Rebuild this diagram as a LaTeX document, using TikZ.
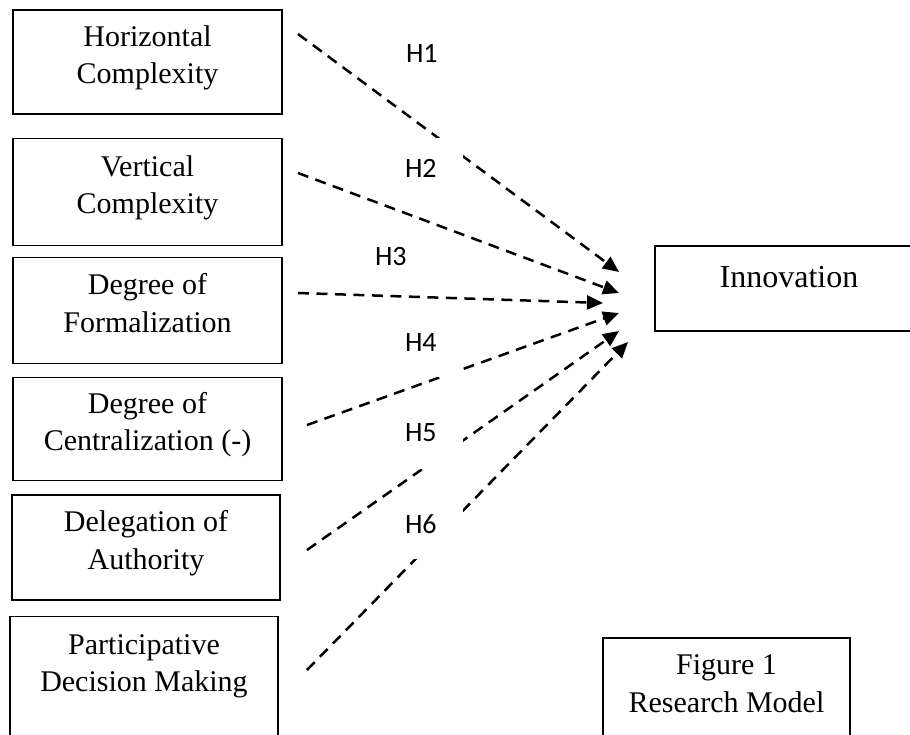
\documentclass[tikz,border=0pt]{standalone}
\usepackage{fontspec}
\setmainfont{Liberation Serif}
\newfontfamily\hypfont{Carlito}
\usetikzlibrary{arrows.meta}

\newcommand{\boxstrut}{\vrule width 0pt height 22pt depth 15pt}
\tikzset{
    varbox/.style={draw, line width=1.8pt, rectangle, align=center, inner sep=0pt,
        font=\fontsize{30}{37.5}\selectfont,
        execute at begin node=\boxstrut, execute at end node=\boxstrut},
    hyp/.style={font=\hypfont\fontsize{28}{34}\selectfont, text width=51pt,
        align=left, inner xsep=7pt, inner ysep=0pt, minimum height=68pt},
    hypgap/.style={hyp, fill=white},
    link/.style={line width=2.5pt, dash pattern=on 11pt off 7.5pt,
        -{Triangle[length=16pt,width=14pt]}}
}

\begin{document}
\begin{tikzpicture}[x=1pt, y=-1pt]
    \useasboundingbox (0,0) rectangle (910,734);
    \clip (0,0) rectangle (910,734);

    % variables
    \node[varbox, minimum width=269pt, minimum height=104pt] (hc) at (147.5,62) {Horizontal\\Complexity};
    \node[varbox, minimum width=269pt, minimum height=107pt] (vc) at (147.5,192) {Vertical\\Complexity};
    \node[varbox, minimum width=269pt, minimum height=106pt] (fo) at (147.5,310.5) {Degree of\\Formalization};
    \node[varbox, minimum width=269pt, minimum height=103pt] (ce) at (147.5,429) {Degree of\\Centralization (-)};
    \node[varbox, minimum width=268pt, minimum height=105pt] (de) at (146,547.5) {Delegation of\\Authority};
    \node[varbox, minimum width=268pt, minimum height=143pt, text depth=50pt] (pd) at (144,688) {Participative\\Decision Making};

    \node[varbox, font=\fontsize{32}{38}\selectfont, minimum width=268pt, minimum height=85pt, text depth=25pt] (in) at (789,288.5) {Innovation};
    \node[varbox, minimum width=247pt, minimum height=141pt, text depth=50pt] (fig) at (726.5,708.5) {Figure 1\\Research Model};

    % arrow ends
    \coordinate (p1) at (298,34);  \coordinate (q1) at (619,272);
    \coordinate (p2) at (298,173); \coordinate (q2) at (619,293);
    \coordinate (p3) at (298,293); \coordinate (q3) at (603,303);
    \coordinate (p4) at (307,425); \coordinate (q4) at (619,313);
    \coordinate (p5) at (307,550); \coordinate (q5) at (619,331);
    \coordinate (p6) at (307,670); \coordinate (q6) at (628,342);

    \foreach \i in {1,...,6}
        \draw[link] (p\i) -- (q\i);

    % hypotheses
    \node[hyp] (h1) at (431.5,53.5) {H1};
    \node[hypgap, minimum height=60pt] (h2) at (430.5,168) {H2};
    \node[hyp] (h3) at (400.5,257) {H3};
    \node[hypgap] (h4) at (430.5,342.5) {H4};
    \node[hypgap, minimum height=72pt] (h5) at (430.5,432.5) {H5};
    \node[hypgap, minimum height=70pt] (h6) at (430.5,524) {H6};
\end{tikzpicture}
\end{document}
